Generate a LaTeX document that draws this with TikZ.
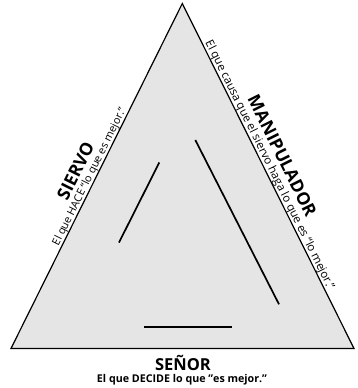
\documentclass[tikz,border=0pt]{standalone}
\usepackage{fontspec}
\setmainfont{Open Sans}
\usetikzlibrary{calc}
\tikzset{
  tri/.style={draw=black, fill=black!10, line width=1.2pt, line join=miter},
  inner/.style={draw=black, line width=1.7pt},
  ttl/.style={font=\bfseries\fontsize{17.5}{18}\selectfont, inner sep=0pt},
  ttlb/.style={font=\bfseries\fontsize{16.5}{18}\selectfont, inner sep=0pt},
  sub/.style={font=\fontsize{10.8}{12}\selectfont, inner sep=0pt},
  subr/.style={font=\fontsize{11.5}{12}\selectfont, inner sep=0pt},
  subb/.style={font=\bfseries\fontsize{10.7}{12}\selectfont, inner sep=0pt},
}
\begin{document}
\begin{tikzpicture}[x=1pt,y=-1pt]
\useasboundingbox (0,0) rectangle (357,388);
\coordinate (A) at (182.3,3.5);
\coordinate (B) at (11,348.5);
\coordinate (C) at (354,348.5);
\draw[tri] (A) -- (B) -- (C) -- cycle;
% inner strokes
\coordinate (l1a) at (119,242.5);
\coordinate (l1b) at (159.3,162.5);
\coordinate (l2a) at (195.3,140);
\coordinate (l2b) at (279,304.3);
\coordinate (l3a) at (144.3,327.3);
\coordinate (l3b) at (231.7,327.3);
\draw[inner] (l1a) -- (l1b);
\draw[inner] (l2a) -- (l2b);
\draw[inner] (l3a) -- (l3b);
% left side
\coordinate (lm) at ($(B)!0.49!(A)$);
\coordinate (lt) at ($(B)!0.488!(A)$);
\node[sub, rotate=63.6, anchor=base] (siervosub) at ($(lm)!3pt!90:(A)$) {El que HACE “lo que es mejor.”};
\node[ttl, rotate=63.6, anchor=base] (siervo) at ($(lt)!15pt!90:(A)$) {SIERVO};
% right side
\coordinate (rm) at ($(A)!0.476!(C)$);
\coordinate (rt) at ($(A)!0.469!(C)$);
\node[subr, rotate=-63.6, anchor=base] (manipsub) at ($(rm)!3pt!90:(C)$) {El que causa que el siervo haga lo que es “lo mejor.”};
\node[ttl, rotate=-63.6, anchor=base] (manip) at ($(rt)!15.5pt!90:(C)$) {MANIPULADOR};
% bottom
\node[ttlb] (senor) at (183,362.5) {SEÑOR};
\node[subb] (senorsub) at (182,379.5) {El que DECIDE lo que "es mejor."};
\end{tikzpicture}
\end{document}
